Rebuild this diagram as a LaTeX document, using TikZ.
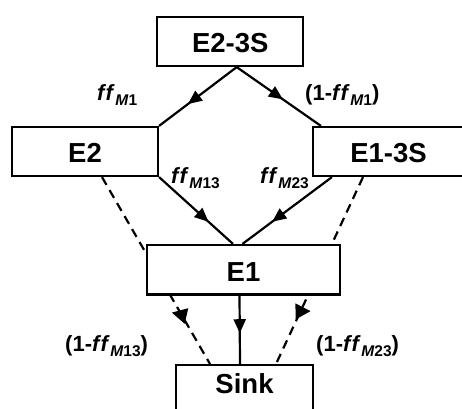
\documentclass[tikz,border=0pt]{standalone}
\usepackage{fontspec}
\setmainfont{Liberation Sans}
\usetikzlibrary{arrows.meta,decorations.markings,calc}

\newcommand{\ffsub}[1]{\textit{f\kern1.2pt f}\kern0.5pt\raisebox{-4.5pt}{\fontsize{15.5pt}{15.5pt}\selectfont\textit{M}#1}}

\begin{document}
\begin{tikzpicture}[x=1pt,y=-1pt,
  box/.style={draw, line width=2.2pt, fill=white, inner sep=0pt,
    text height=22.5pt, text depth=0pt,
    font=\fontsize{27.5pt}{27.5pt}\selectfont\bfseries},
  lbl/.style={inner sep=0pt, anchor=base west,
    font=\fontsize{22pt}{22pt}\selectfont\bfseries},
  flow/.style={line width=2.2pt},
  dashflow/.style={line width=2.2pt, dash pattern=on 9pt off 6pt},
  midarrow/.style={postaction={decorate}, decoration={markings,
    mark=at position #1 with {\arrow{Triangle[length=14pt,width=12pt]}}}},
  sidehead/.style 2 args={postaction={decorate}, decoration={markings,
    mark=at position #1 with {\pgftransformresetnontranslations
      \fill[rotate=#2] (10,0) -- (-5,8) -- (-5,-8) -- cycle;}}}
]
\useasboundingbox (0,0) rectangle (462,408);

\node[box, minimum width=146pt, minimum height=49pt] (E23S) at (230.3,41.5) {E2-3S};
\node[box, minimum width=146pt, minimum height=49pt] (E2) at (85,151.5) {E2};
\node[box, minimum width=151pt, minimum height=49pt] (E13S) at (388.5,151.5) {E1-3S};
\node[box, minimum width=137pt, anchor=north, text height=28.15pt, text depth=40pt] (Sink) at (244.5,364) {Sink};

% dashed flows passing behind E1
\draw[dashflow, sidehead={0.737}{167}] ($(E2.south)+(17,0)$) -- ($(Sink.north)+(-34.5,0)$);
\draw[dashflow, sidehead={0.718}{1}] ($(E13S.south)+(-25.5,0)$) -- ($(Sink.north)+(31.5,0)$);

\node[box, minimum width=193pt, minimum height=49.5pt] (E1) at (243.5,269.75) {E1};

\coordinate (top) at ($(E23S.south)+(6.4,0)$);
\draw[flow, midarrow=0.63] (top) -- (E2.north east);
\draw[flow, midarrow=0.55] (top) -- ($(E13S.north west)+(9,0)$);
\draw[flow, midarrow=0.67] (E2.south east) -- ($(E1.north)+(-10.5,0)$);
\draw[flow, midarrow=0.67] ($(E13S.south west)+(20,0)$) -- ($(E1.north)+(-1,0)$);
\draw[flow, midarrow=0.55] ($(E1.south)+(-4,0)$) -- ($(Sink.north)+(-4.5,0)$);

\node[lbl] (l1) at (97,100.5) {\ffsub{1}};
\node[lbl] (l2) at (305,100.5) {(1-\ffsub{1})};
\node[lbl] (l3) at (171,183.5) {\ffsub{13}};
\node[lbl] (l4) at (260,183.5) {\ffsub{23}};
\node[lbl] (l5) at (65,351.5) {(1-\ffsub{13})};
\node[lbl] (l6) at (316,351.5) {(1-\ffsub{23})};
\end{tikzpicture}
\end{document}
